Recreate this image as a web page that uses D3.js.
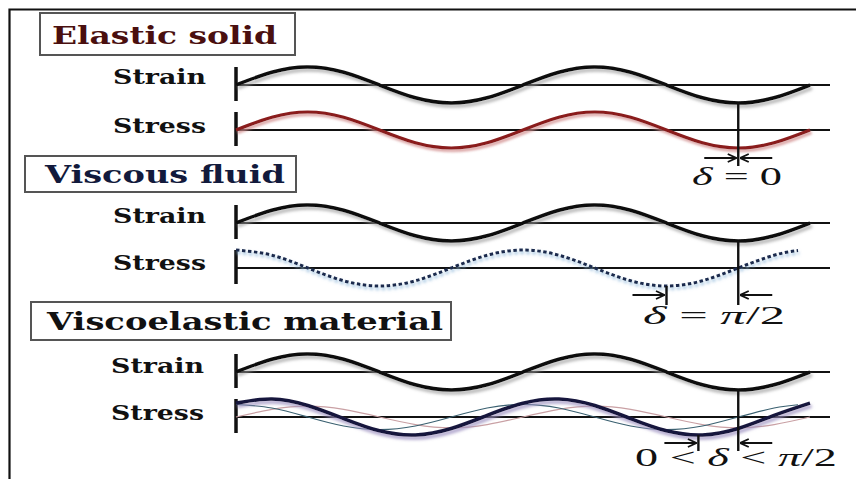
<!DOCTYPE html>
<html>
<head>
<meta charset="utf-8">
<script src="https://cdn.jsdelivr.net/npm/d3@7"></script>
<style>
  html, body { margin: 0; padding: 0; background: #fff; }
  svg { display: block; }
</style>
</head>
<body>
<div id="chart"></div>
<script>
// ---------------- DATA ----------------
const panelTitles = ["Elastic solid", "Viscous fluid", "Viscoelastic material"];
const rowLabels = ["Strain", "Stress"];
const deltaLabels = ["\u03b4 = 0", "\u03b4 = \u03c0/2", "0 < \u03b4 < \u03c0/2"];

// phase positions (degrees) of the sampled points, two full cycles
const phase = [0, 45, 90, 135, 180, 225, 270, 315, 360, 405, 450, 495, 540, 585, 630, 675, 720];
const phaseShort = [0, 45, 90, 135, 180, 225, 270, 315, 360, 405, 450, 495, 540, 585, 630, 675, 705];

// normalised wave heights read at those phases (+1 = crest, -1 = trough)
const strainWave     = [0, 0.71, 1, 0.71, 0, -0.71, -1, -0.71, 0, 0.71, 1, 0.71, 0, -0.71, -1, -0.71, 0];
const elasticStress  = [0, 0.71, 1, 0.71, 0, -0.71, -1, -0.71, 0, 0.71, 1, 0.71, 0, -0.71, -1, -0.71, 0];
const viscousStress  = [1, 0.71, 0, -0.71, -1, -0.71, 0, 0.71, 1, 0.71, 0, -0.71, -1, -0.71, 0, 0.71, 0.97];
const veStress       = [0.77, 1, 0.64, -0.09, -0.77, -1, -0.64, 0.09, 0.77, 1, 0.64, -0.09, -0.77, -1, -0.64, 0.09, 0.77];
const veViscousPart  = [0.7, 0.5, 0, -0.5, -0.7, -0.5, 0, 0.5, 0.7, 0.5, 0, -0.5, -0.7, -0.5, 0, 0.5, 0.68];
const veElasticPart  = [0, 0.42, 0.6, 0.42, 0, -0.42, -0.6, -0.42, 0, 0.42, 0.6, 0.42, 0, -0.42, -0.6, -0.42, 0];

// phase of the strain trough and of the stress trough marked by the arrows
const strainTroughPhase = 630;
const stressTroughPhase = [630, 540, 580];

// ---------------- LAYOUT ----------------
const W = 856, H = 479;
const svg = d3.select("#chart").append("svg").attr("width", W).attr("height", H)
  .style("font-family", "'Liberation Serif', 'DejaVu Serif', serif");

const defs = svg.append("defs");
function shadow(id, color, dx, dy, sd, op) {
  const f = defs.append("filter").attr("id", id)
    .attr("x", "-5%").attr("y", "-50%").attr("width", "110%").attr("height", "200%");
  f.append("feDropShadow").attr("dx", dx).attr("dy", dy).attr("stdDeviation", sd)
    .attr("flood-color", color).attr("flood-opacity", op);
}
shadow("sh", "#9a9a9a", 2, 3, 1.4, 0.7);
shadow("shRed", "#d08a8a", 1.5, 2.5, 1.2, 0.8);
shadow("shBlue", "#8fb8db", 1, 2.5, 1.5, 0.9);
shadow("shPurple", "#9b8fc0", 1.5, 3, 1.5, 0.8);

// outer frame (top + left)
svg.append("path").attr("d", "M9.5,479 V9.5 H856")
  .attr("fill", "none").attr("stroke", "#111").attr("stroke-width", 2.2);

const x = d3.scaleLinear().domain([0, 720]).range([236, 810]);
const AMP = 18;

const panels = [
  { title: panelTitles[0], color: "#4a0f0f", box: [40, 13, 255, 42], text: [52, 44, 225, 24],
    strainBase: 85, stressBase: 130, labelY: [84, 133], labelX: 113,
    arrowY: 158, lineBottom: 166, deltaText: [692, 185, 90] },
  { title: panelTitles[1], color: "#121a3c", box: [25, 156, 271, 36], text: [45, 183, 240, 25],
    strainBase: 223, stressBase: 268, labelY: [223, 270], labelX: 113,
    arrowY: 295, lineBottom: 305, deltaText: [643, 324, 142] },
  { title: panelTitles[2], color: "#111111", box: [31, 302, 420, 38], text: [47, 330, 396, 25],
    strainBase: 372, stressBase: 417, labelY: [373, 420], labelX: 111,
    arrowY: 443, lineBottom: 451, deltaText: [635, 466, 202] }
];

// arrowheads
defs.append("marker").attr("id", "arr").attr("viewBox", "0 0 10 10")
  .attr("refX", 9.5).attr("refY", 5).attr("markerWidth", 10).attr("markerHeight", 10)
  .attr("markerUnits", "userSpaceOnUse").attr("orient", "auto")
  .append("path").attr("d", "M1,1 L9.5,5 L1,9").attr("fill", "none")
  .attr("stroke", "#111").attr("stroke-width", 1.8);

function wave(base, amp) {
  const y = d3.scaleLinear().domain([-1, 1]).range([base + amp, base - amp]);
  return { y, line: d3.line().x(d => x(d[0])).y(d => y(d[1])).curve(d3.curveNatural) };
}
const zip = (a, b) => a.map((v, i) => [v, b[i]]);

panels.forEach((p, pi) => {
  const g = svg.append("g");
  // title box
  g.append("rect").attr("x", p.box[0]).attr("y", p.box[1]).attr("width", p.box[2]).attr("height", p.box[3])
    .attr("fill", "#fff").attr("stroke", "#555").attr("stroke-width", 2);
  g.append("text").attr("x", p.text[0]).attr("y", p.text[1])
    .attr("textLength", p.text[2]).attr("lengthAdjust", "spacingAndGlyphs")
    .attr("font-family", "'DejaVu Serif', serif")
    .attr("font-size", p.text[3]).attr("font-weight", "bold").attr("fill", p.color)
    .text(p.title);

  // row labels
  rowLabels.forEach((lab, ri) => {
    g.append("text").attr("x", p.labelX).attr("y", p.labelY[ri])
      .attr("textLength", 93).attr("lengthAdjust", "spacingAndGlyphs")
      .attr("font-family", "'DejaVu Serif', serif")
      .attr("font-size", 19.5).attr("font-weight", "bold").attr("fill", "#111").text(lab);
  });

  const bases = [p.strainBase, p.stressBase];
  bases.forEach(b => {
    // baseline
    g.append("line").attr("x1", x(0)).attr("x2", 830).attr("y1", b).attr("y2", b)
      .attr("stroke", "#111").attr("stroke-width", 2);
    // vertical axis tick
    g.append("line").attr("x1", x(0)).attr("x2", x(0)).attr("y1", b - 18).attr("y2", b + 16)
      .attr("stroke", "#111").attr("stroke-width", 3.5);
  });

  // strain wave
  const ws = wave(p.strainBase, AMP);
  g.append("path").datum(zip(phase, strainWave)).attr("d", ws.line)
    .attr("fill", "none").attr("stroke", "#111").attr("stroke-width", 3.5).attr("filter", "url(#sh)");

  const wt = wave(p.stressBase, AMP);
  if (pi === 0) {
    g.append("path").datum(zip(phase, elasticStress)).attr("d", wt.line)
      .attr("fill", "none").attr("stroke", "#8a1c1c").attr("stroke-width", 3.2).attr("filter", "url(#shRed)");
  } else if (pi === 1) {
    g.append("path").datum(zip(phaseShort, viscousStress)).attr("d", wt.line)
      .attr("fill", "none").attr("stroke", "#1b2a4e").attr("stroke-width", 3)
      .attr("stroke-dasharray", "3.5 2.5").attr("filter", "url(#shBlue)");
  } else {
    g.append("path").datum(zip(phase, veElasticPart)).attr("d", wt.line)
      .attr("fill", "none").attr("stroke", "#c9a0a4").attr("stroke-width", 1.2);
    g.append("path").datum(zip(phaseShort, veViscousPart)).attr("d", wt.line)
      .attr("fill", "none").attr("stroke", "#3a6070").attr("stroke-width", 1.2);
    g.append("path").datum(zip(phase, veStress)).attr("d", wt.line)
      .attr("fill", "none").attr("stroke", "#16163e").attr("stroke-width", 3.6).attr("filter", "url(#shPurple)");
  }

  // marker lines
  const xs = x(strainTroughPhase), xt = x(stressTroughPhase[pi]);
  g.append("line").attr("x1", xs).attr("x2", xs).attr("y1", ws.y(-1)).attr("y2", p.lineBottom)
    .attr("stroke", "#111").attr("stroke-width", 2.4);
  if (pi > 0) {
    g.append("line").attr("x1", xt).attr("x2", xt).attr("y1", wt.y(-1)).attr("y2", p.lineBottom)
      .attr("stroke", "#111").attr("stroke-width", 2.4);
  }
  // arrows
  const left = Math.min(xs, xt), right = Math.max(xs, xt);
  g.append("line").attr("x1", left - 34).attr("x2", left - 2).attr("y1", p.arrowY).attr("y2", p.arrowY)
    .attr("stroke", "#111").attr("stroke-width", 1.8).attr("marker-end", "url(#arr)");
  g.append("line").attr("x1", right + 34).attr("x2", right + 2).attr("y1", p.arrowY).attr("y2", p.arrowY)
    .attr("stroke", "#111").attr("stroke-width", 1.8).attr("marker-end", "url(#arr)");

  // delta label
  const dt = g.append("text").attr("x", p.deltaText[0]).attr("y", p.deltaText[1])
    .attr("textLength", p.deltaText[2]).attr("lengthAdjust", "spacingAndGlyphs")
    .attr("font-size", 25).attr("fill", "#111");
  const parts = deltaLabels[pi].split(/(\u03b4|\u03c0)/);
  parts.forEach(s => {
    if (!s) return;
    dt.append("tspan").attr("font-style", (s === "\u03b4" || s === "\u03c0") ? "italic" : "normal").text(s);
  });
});
</script>
</body>
</html>
